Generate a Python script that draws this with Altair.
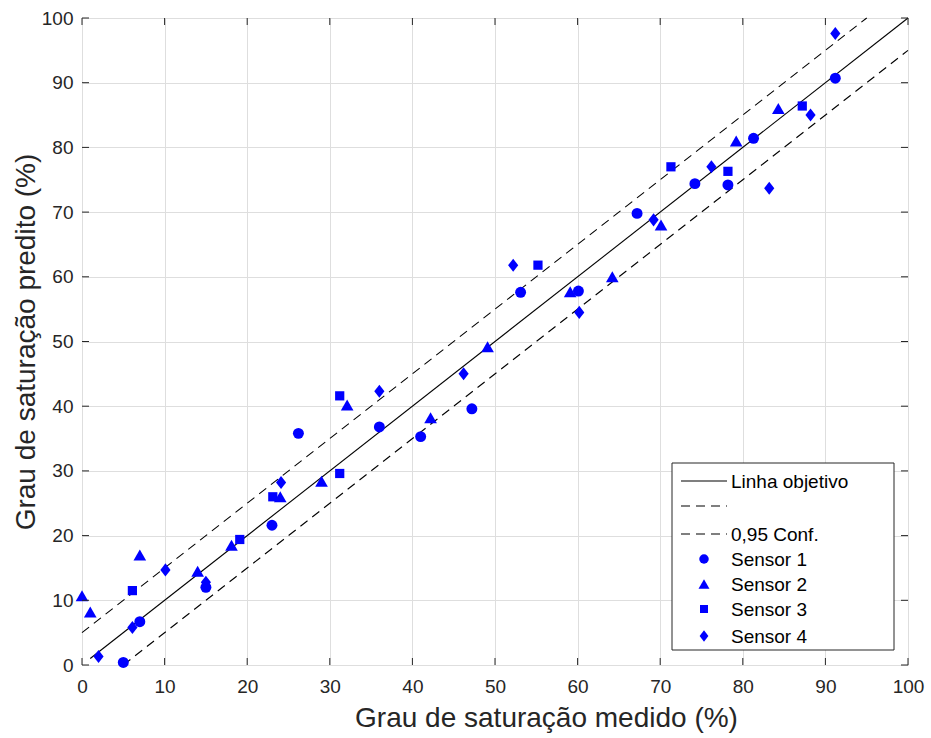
import altair as alt
import pandas as pd

# Measured vs. predicted degree of saturation (%) for four sensors
s1_x = [5, 7, 15, 23, 26.2, 36, 41, 47.2, 53.1, 60.1, 67.2, 74.2, 78.2, 81.3, 91.2]
s1_y = [0.4, 6.7, 12.0, 21.6, 35.8, 36.8, 35.3, 39.6, 57.6, 57.8, 69.8, 74.4, 74.2, 81.4, 90.7]

s2_x = [0, 1, 7, 14, 18.1, 24, 29, 32.1, 42.2, 49.1, 59.1, 64.2, 70.1, 79.2, 84.3]
s2_y = [10.7, 8.2, 17.0, 14.5, 18.5, 26.0, 28.4, 40.2, 38.2, 49.2, 57.7, 60.0, 68.0, 81.0, 86.0]

s3_x = [6.1, 19.1, 23.1, 31.2, 31.2, 55.2, 71.3, 78.2, 87.2]
s3_y = [11.5, 19.4, 26.0, 29.6, 41.6, 61.8, 77.0, 76.3, 86.4]

s4_x = [2, 6.1, 10.1, 15, 24.1, 36, 46.2, 52.2, 60.2, 69.2, 76.2, 83.2, 88.2, 91.2]
s4_y = [1.3, 5.8, 14.7, 12.8, 28.2, 42.3, 45.0, 61.8, 54.5, 68.8, 77.0, 73.7, 85.0, 97.6]

sensor_names = ["Sensor 1", "Sensor 2", "Sensor 3", "Sensor 4"]
# slightly tall diamond path for Sensor 4
sensor_shapes = ["circle", "triangle-up", "square", "M0,-1L0.78,0L0,1L-0.78,0Z"]
sensor_sizes = [120, 160, 85, 170]

# Target line y = x and the 0.95 confidence band (+/- 5)
target_x = [1, 100]
target_y = [1, 100]
upper_x = [0, 95]
upper_y = [5, 100]
lower_x = [5, 100]
lower_y = [0, 95]

tick_values = [0, 10, 20, 30, 40, 50, 60, 70, 80, 90, 100]

W, H = 826, 647
FONT = "Liberation Sans"
BLUE = "#0000ff"
AX = "#262626"

xscale = alt.Scale(domain=[0, 100], nice=False, zero=False)
yscale = alt.Scale(domain=[0, 100], nice=False, zero=False)

x_axis = alt.Axis(
    values=tick_values, grid=True, gridColor="#dedede", gridWidth=1,
    ticks=False, domain=False, labelFont=FONT, labelFontSize=19,
    labelColor=AX, labelPadding=12, labelFlush=False,
    title="Grau de saturação medido (%)",
    titleFont=FONT, titleFontSize=28, titleFontWeight="normal",
    titleColor=AX, titlePadding=8, titleX=464,
)
y_axis = alt.Axis(
    values=tick_values, grid=True, gridColor="#dedede", gridWidth=1,
    ticks=False, domain=False, labelFont=FONT, labelFontSize=19,
    labelColor=AX, labelPadding=9, labelFlush=False,
    title="Grau de saturação predito (%)",
    titleFont=FONT, titleFontSize=28, titleFontWeight="normal",
    titleColor=AX, titlePadding=1,
)


def X(field):
    return alt.X(field, scale=xscale, axis=x_axis)


def Y(field):
    return alt.Y(field, scale=yscale, axis=y_axis)


def line_layer(xs, ys, dash=None):
    df = pd.DataFrame({"x": xs, "y": ys})
    kw = {"color": "black", "strokeWidth": 1.1}
    if dash:
        kw["strokeDash"] = dash
    return alt.Chart(df).mark_line(**kw).encode(x=X("x:Q"), y=Y("y:Q"))


target = line_layer(target_x, target_y)
upper = line_layer(upper_x, upper_y, [9, 6])
lower = line_layer(lower_x, lower_y, [9, 6])

point_layers = []
for name, xs, ys, shp, sz in zip(sensor_names, [s1_x, s2_x, s3_x, s4_x],
                                 [s1_y, s2_y, s3_y, s4_y], sensor_shapes, sensor_sizes):
    df = pd.DataFrame({"x": xs, "y": ys, "sensor": name})
    point_layers.append(alt.Chart(df).mark_point(
        filled=True, opacity=1, color=BLUE, strokeWidth=0, shape=shp, size=sz
    ).encode(x=X("x:Q"), y=Y("y:Q")))

# Inward tick marks on all four sides of the frame
ticks_df = pd.DataFrame({"v": tick_values})
tk = 7
xt_bottom = alt.Chart(ticks_df).mark_rule(color=AX, strokeWidth=1).encode(
    x=X("v:Q"), y=alt.value(H), y2=alt.value(H - tk))
xt_top = alt.Chart(ticks_df).mark_rule(color=AX, strokeWidth=1).encode(
    x=X("v:Q"), y=alt.value(0), y2=alt.value(tk))
yt_left = alt.Chart(ticks_df).mark_rule(color=AX, strokeWidth=1).encode(
    y=Y("v:Q"), x=alt.value(0), x2=alt.value(tk))
yt_right = alt.Chart(ticks_df).mark_rule(color=AX, strokeWidth=1).encode(
    y=Y("v:Q"), x=alt.value(W), x2=alt.value(W - tk))

# Legend box
one = pd.DataFrame({"k": [0]})
lx0, lx1, ly0, ly1 = 590, 812, 445, 632
legend_box = alt.Chart(one).mark_rect(fill="white", stroke=AX, strokeWidth=1).encode(
    x=alt.value(lx0), x2=alt.value(lx1), y=alt.value(ly0), y2=alt.value(ly1))

legend_labels = ["Linha objetivo", "", "0,95 Conf."] + sensor_names
legend_rows = [463, 488, 516, 541, 566, 591, 618]
legend_layers = [legend_box]
for i, (lab, ry) in enumerate(zip(legend_labels, legend_rows)):
    if i < 3:
        kw = {"color": "black", "strokeWidth": 1.1}
        if i > 0:
            kw["strokeDash"] = [9, 6]
        legend_layers.append(alt.Chart(one).mark_rule(**kw).encode(
            x=alt.value(599), x2=alt.value(645), y=alt.value(ry)))
    else:
        j = i - 3
        legend_layers.append(alt.Chart(one).mark_point(
            filled=True, opacity=1, color=BLUE, strokeWidth=0,
            shape=sensor_shapes[j], size=sensor_sizes[j] * 0.75).encode(
            x=alt.value(622), y=alt.value(ry)))
    if lab:
        legend_layers.append(alt.Chart(one).mark_text(
            align="left", baseline="middle", font=FONT, fontSize=19, color="black").encode(
            x=alt.value(649), y=alt.value(ry + 1), text=alt.value(lab)))

chart = alt.layer(
    upper, lower, target, *point_layers,
    xt_bottom, xt_top, yt_left, yt_right, *legend_layers,
).properties(
    width=W, height=H,
    autosize=alt.AutoSizeParams(type="none"),
    padding={"left": 82, "top": 18, "right": 23, "bottom": 73},
).configure_view(
    stroke=AX, strokeWidth=1,
).configure(background="white")

chart.save("out.html", embed_options={"renderer": "svg", "actions": False})
